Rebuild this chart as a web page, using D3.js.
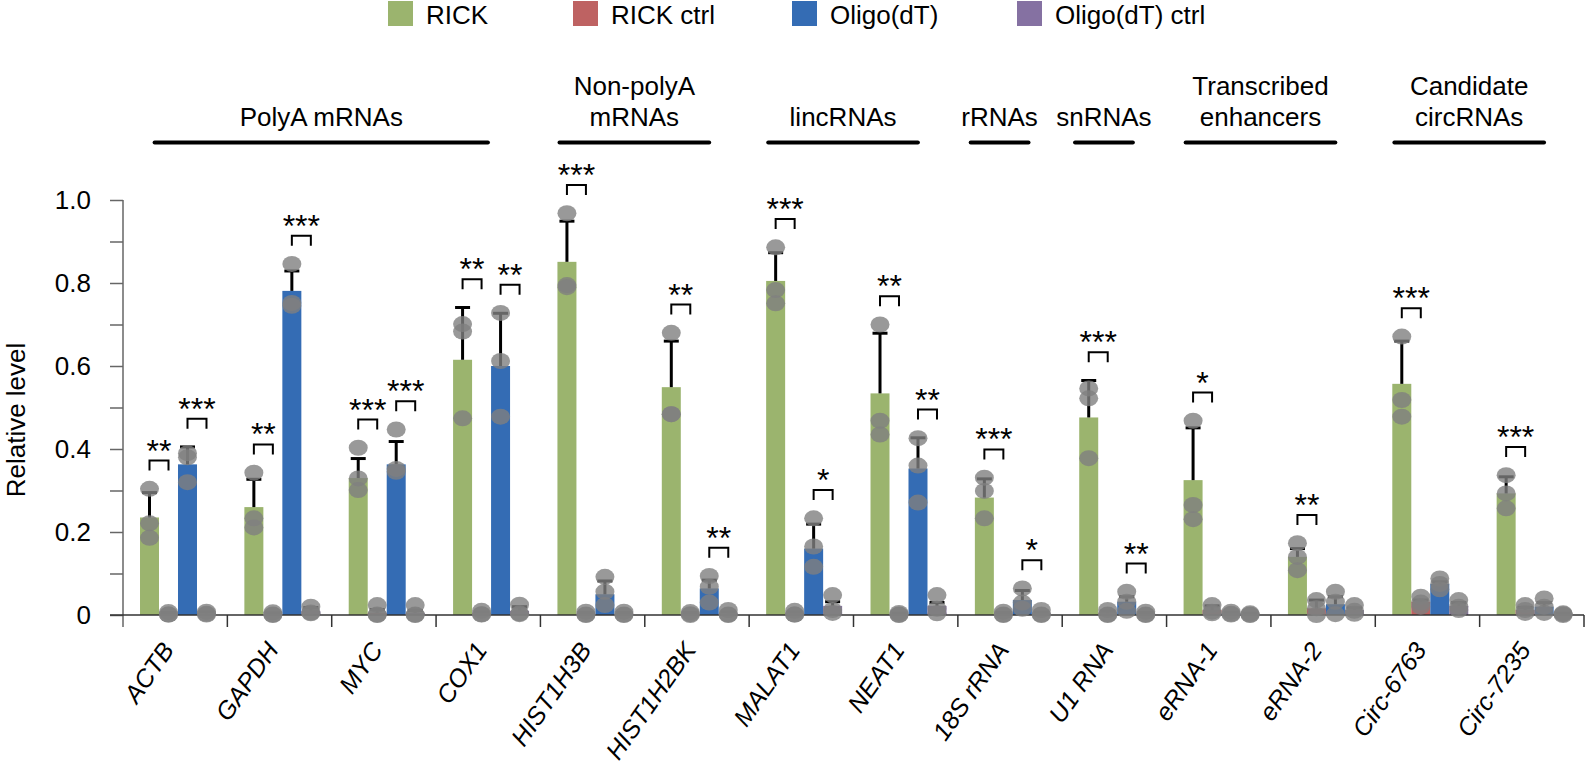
<!DOCTYPE html>
<html>
<head>
<meta charset="utf-8">
<script src="https://cdn.jsdelivr.net/npm/d3@7"></script>
<style>
body{margin:0;background:#fff;}
text{font-family:"Liberation Sans",Arial,Helvetica,sans-serif;fill:#000;}
</style>
</head>
<body>
<script>
//categories on the x axis
const categories = ["ACTB","GAPDH","MYC","COX1","HIST1H3B","HIST1H2BK","MALAT1","NEAT1","18S rRNA","U1 RNA","eRNA-1","eRNA-2","Circ-6763","Circ-7235"];
const seriesNames = ["RICK","RICK ctrl","Oligo(dT)","Oligo(dT) ctrl"];

//RICK
const rick = [0.235,0.26,0.33,0.615,0.851,0.549,0.805,0.534,0.283,0.476,0.325,0.14,0.557,0.293];
const rickErr = [0.06,0.067,0.047,0.126,0.098,0.111,0.068,0.145,0.045,0.089,0.126,0.02,0.103,0.04];
const rickDots = [[0.304,0.221,0.186],[0.343,0.233,0.211],[0.403,0.329,0.301],[0.701,0.683,0.474],[0.968,0.795,0.79],[0.68,0.484,0.484],[0.886,0.783,0.751],[0.70,0.468,0.435],[0.331,0.299,0.233],[0.546,0.522,0.378],[0.468,0.265,0.231],[0.173,0.14,0.108],[0.671,0.518,0.478],[0.337,0.293,0.257]];

//RICK ctrl
const rickCtrl = [0.003,0.002,0.005,0.004,0.003,0.003,0.004,0.002,0.003,0.004,0.012,0.016,0.032,0.012];
const rickCtrlErr = [0.003,0.003,0.008,0.004,0.003,0.003,0.004,0.002,0.003,0.005,0.01,0.02,0.004,0.006];
const rickCtrlDots = [[0.007,0.001,0.001],[0.0065,0.001,0],[0.024,0.001,0],[0.01,0.002,0.001],[0.008,0.001,0],[0.007,0.002,0],[0.01,0.001,0.001],[0.005,0.001,0],[0.008,0.001,0],[0.012,0.001,0],[0.024,0.008,0.004],[0.036,0.016,0],[0.044,0.03,0.02],[0.024,0.012,0.005]];

//Oligo(dT)
const oligo = [0.363,0.781,0.363,0.6,0.05,0.064,0.16,0.353,0.036,0.032,0.004,0.026,0.075,0.02];
const oligoErr = [0.042,0.048,0.055,0.127,0.032,0.02,0.059,0.074,0.023,0.012,0.003,0.018,0.005,0.01];
const oligoDots = [[0.39,0.38,0.32],[0.846,0.752,0.745],[0.447,0.352,0.345],[0.728,0.612,0.478],[0.092,0.056,0.024],[0.094,0.068,0.03],[0.233,0.165,0.116],[0.426,0.36,0.271],[0.064,0.03,0.015],[0.056,0.032,0.01],[0.008,0.003,0.001],[0.056,0.032,0.002],[0.088,0.075,0.062],[0.04,0.02,0.005]];

//Oligo(dT) ctrl
const oligoCtrl = [0.004,0.01,0.005,0.01,0.003,0.004,0.022,0.022,0.004,0.003,0.002,0.012,0.022,0.002];
const oligoCtrlErr = [0.004,0.008,0.006,0.01,0.003,0.004,0.01,0.008,0.003,0.003,0.002,0.005,0.008,0.002];
const oligoCtrlDots = [[0.008,0.003,0.001],[0.02,0.006,0.004],[0.024,0.001,0],[0.025,0.004,0.002],[0.008,0.001,0],[0.012,0.001,0],[0.048,0.012,0.005],[0.048,0.015,0.004],[0.012,0.001,0],[0.008,0.001,0],[0.004,0.001,0],[0.024,0.01,0.003],[0.036,0.02,0.012],[0.004,0.002,0]];

//significance marks (RICK vs ctrl, Oligo(dT) vs ctrl)
const sigRick = ["**","**","***","**","***","**","***","**","***","***","*","**","***","***"];
const sigOligo = ["***","***","***","**","","**","*","**","*","**","","","",""];

//groups above the chart
const groupLabels = [["PolyA mRNAs"],["Non-polyA","mRNAs"],["lincRNAs"],["rRNAs"],["snRNAs"],["Transcribed","enhancers"],["Candidate","circRNAs"]];
const groupFirst = ["ACTB","HIST1H3B","MALAT1","18S rRNA","U1 RNA","eRNA-1","Circ-6763"];
const groupLast = ["COX1","HIST1H2BK","NEAT1","18S rRNA","U1 RNA","eRNA-2","Circ-7235"];

const yTicks = [0,0.1,0.2,0.3,0.4,0.5,0.6,0.7,0.8,0.9,1.0];

//styles
const colors = ["#9bb46e","#be6262","#346cb4","#8571a2"];
const legendX = [388,573,792,1017];

const series = [
	{name:seriesNames[0], vals:rick, errs:rickErr, dots:rickDots, color:colors[0]},
	{name:seriesNames[1], vals:rickCtrl, errs:rickCtrlErr, dots:rickCtrlDots, color:colors[1]},
	{name:seriesNames[2], vals:oligo, errs:oligoErr, dots:oligoDots, color:colors[2]},
	{name:seriesNames[3], vals:oligoCtrl, errs:oligoCtrlErr, dots:oligoCtrlDots, color:colors[3]}
];

const svg = d3.select("body").append("svg")
	.attr("width",1585).attr("height",773);

const y = d3.scaleLinear().domain([0,1]).range([615,200]);
const x0 = d3.scaleBand().domain(categories).range([123,1584]);
const bw = x0.bandwidth();
const x1 = d3.scaleBand().domain(seriesNames).range([bw*0.163,bw*0.891]);
const barW = x1.bandwidth();
const cx = (cat,s) => x0(cat) + x1(s) + barW/2;

//bars
const barG = svg.append("g");
series.forEach(s => {
	barG.selectAll(null).data(categories).enter().append("rect")
		.attr("x", d => x0(d) + x1(s.name))
		.attr("width", barW)
		.attr("y", (d,i) => y(s.vals[i]))
		.attr("height", (d,i) => y(0) - y(s.vals[i]))
		.attr("fill", s.color);
});

//error bars (upper only)
const errG = svg.append("g").attr("stroke","#000").attr("stroke-width",3);
series.forEach(s => {
	categories.forEach((c,i) => {
		const xc = cx(c,s.name), top = y(s.vals[i] + s.errs[i]);
		errG.append("line").attr("x1",xc).attr("x2",xc).attr("y1",y(s.vals[i])).attr("y2",top);
		errG.append("line").attr("x1",xc-7.5).attr("x2",xc+7.5).attr("y1",top).attr("y2",top);
	});
});

//axes
const yAxis = d3.axisLeft(y).tickValues(yTicks).tickSize(13).tickPadding(19)
	.tickFormat((d,i) => i % 2 ? "" : (d === 0 ? "0" : d3.format(".1f")(d)));
const yg = svg.append("g").attr("transform","translate(123,0)").call(yAxis);
yg.select(".domain").remove();
yg.selectAll(".tick line").attr("stroke","#666").attr("stroke-width",1.5);
yg.selectAll(".tick text").attr("font-size",26).attr("font-family","'Liberation Sans',Arial,sans-serif");
svg.append("line").attr("x1",123).attr("x2",123).attr("y1",y(1)).attr("y2",627)
	.attr("stroke","#666").attr("stroke-width",1.5);

svg.append("line").attr("x1",110).attr("x2",1584).attr("y1",y(0)).attr("y2",y(0))
	.attr("stroke","#333").attr("stroke-width",1.5);
svg.append("g").selectAll("line").data(categories).enter().append("line")
	.attr("x1", d => x0(d) + bw).attr("x2", d => x0(d) + bw)
	.attr("y1", y(0)).attr("y2", 627)
	.attr("stroke","#333").attr("stroke-width",1.5);

//category labels
svg.append("g").selectAll("text").data(categories).enter().append("text")
	.attr("transform", d => "translate(" + (x0(d) + bw/2) + ",650) rotate(-55)")
	.attr("text-anchor","end")
	.attr("font-size",25)
	.attr("font-style","italic")
	.text(d => d);

svg.append("text")
	.attr("transform","translate(25,420) rotate(-90)")
	.attr("text-anchor","middle")
	.attr("font-size",26)
	.text("Relative level");

//replicate dots
const dotG = svg.append("g");
series.forEach(s => {
	categories.forEach((c,i) => {
		s.dots[i].forEach(v => {
			dotG.append("ellipse").attr("cx",cx(c,s.name)).attr("cy",y(v))
				.attr("rx",9.5).attr("ry",8)
				.attr("fill","rgb(128,128,128)").attr("fill-opacity",0.8);
		});
	});
});

//significance brackets
const sigG = svg.append("g");
[[0,1,sigRick],[2,3,sigOligo]].forEach(p => {
	const a = series[p[0]], b = series[p[1]];
	categories.forEach((c,i) => {
		const mark = p[2][i];
		if (!mark) return;
		const level = Math.max(a.vals[i] + a.errs[i], d3.max(a.dots[i])) + 0.068;
		const yt = y(level);
		const xa = cx(c,a.name), xb = cx(c,b.name);
		sigG.append("path")
			.attr("d","M" + xa + "," + (yt+10) + "V" + yt + "H" + xb + "V" + (yt+10))
			.attr("fill","none").attr("stroke","#000").attr("stroke-width",2);
		sigG.append("text").attr("x",(xa+xb)/2).attr("y",yt+1)
			.attr("text-anchor","middle").attr("font-size",32)
			.text(mark);
	});
});

//legend
const leg = svg.append("g").selectAll("g").data(series).enter().append("g")
	.attr("transform",(d,i) => "translate(" + legendX[i] + ",1)");
leg.append("rect").attr("width",25).attr("height",25).attr("fill",d => d.color);
leg.append("text").attr("x",38).attr("y",22.5).attr("font-size",26).text(d => d.name);

//group headers
groupLabels.forEach((lab,g) => {
	const xs = x0(groupFirst[g]), xe = x0(groupLast[g]) + bw;
	const n = Math.round((xe - xs) / bw);
	const mid = (xs + xe)/2 - bw*0.1;
	const len = n*bw*0.88 - 34;
	svg.append("line").attr("x1",mid-len/2).attr("x2",mid+len/2).attr("y1",142.5).attr("y2",142.5)
		.attr("stroke","#000").attr("stroke-width",4).attr("stroke-linecap","round");
	lab.forEach((t,k) => {
		svg.append("text").attr("x",mid).attr("y",126 - (lab.length-1-k)*31)
			.attr("text-anchor","middle").attr("font-size",26).text(t);
	});
});
</script>
</body>
</html>
